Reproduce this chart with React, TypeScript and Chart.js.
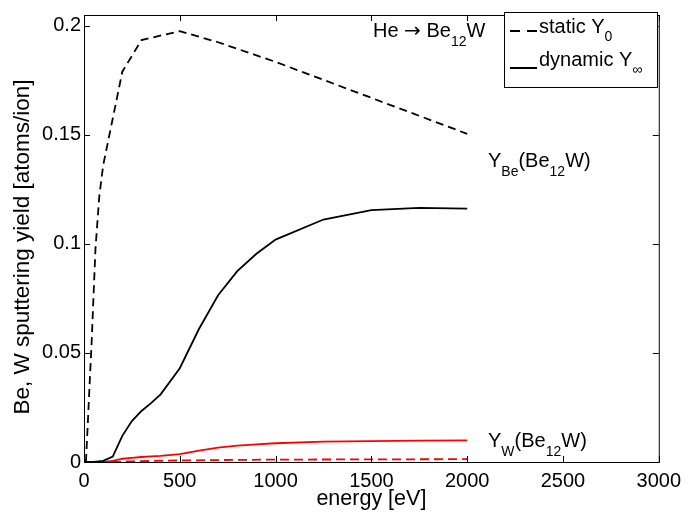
import { useEffect, useRef } from "react";
import { Chart, registerables } from "chart.js";

Chart.register(...registerables);

// Static (initial) Be yield of Be12W under He bombardment
const energyStaticBe = [10, 20, 30, 40, 50, 60, 80, 100, 200, 300, 500, 700, 1000, 1500, 2000];
const yieldStaticBe = [0, 0.018, 0.037, 0.055, 0.077, 0.098, 0.122, 0.136, 0.179, 0.1935, 0.1976, 0.1925, 0.1835, 0.167, 0.1505];

// Dynamic (steady-state) yields
const energyDynamic = [0, 50, 100, 150, 200, 250, 300, 350, 400, 500, 600, 700, 800, 900, 1000, 1250, 1500, 1750, 2000];
const yieldDynamicBe = [0, 0, 0.0005, 0.0025, 0.012, 0.0188, 0.0234, 0.027, 0.031, 0.043, 0.061, 0.0765, 0.0875, 0.0955, 0.102, 0.1112, 0.1155, 0.1165, 0.1162];
const yieldDynamicW = [0, 0, 0, 0.0005, 0.0015, 0.0019, 0.0023, 0.0026, 0.0028, 0.0036, 0.0052, 0.0066, 0.0075, 0.0081, 0.0086, 0.0093, 0.0096, 0.0098, 0.0099];

// Static W yield
const energyStaticW = [0, 100, 200, 300, 500, 700, 1000, 1500, 2000];
const yieldStaticW = [0, 0, 0.0002, 0.0004, 0.0007, 0.0009, 0.0011, 0.0012, 0.0013];

const xTickValues = [0, 500, 1000, 1500, 2000, 2500, 3000];
const yTickValues = [0, 0.05, 0.1, 0.15, 0.2];

const FONT = "'Liberation Sans', Arial, Helvetica, sans-serif";
const SYMBOL_FONT = "'DejaVu Sans', sans-serif";

type Part = { t: string; sub?: boolean; family?: string };

function drawRich(ctx: CanvasRenderingContext2D, x: number, y: number, parts: Part[], size = 20, subSize = 14, subDrop = 9) {
  let cx = x;
  ctx.textBaseline = "alphabetic";
  ctx.textAlign = "left";
  for (const p of parts) {
    ctx.font = `${p.sub ? subSize : size}px ${p.family || FONT}`;
    ctx.fillText(p.t, cx, p.sub ? y + subDrop : y);
    cx += ctx.measureText(p.t).width;
  }
}

const zip = (xs: number[], ys: number[]) => xs.map((x, i) => ({ x, y: ys[i] }));

const framePlugin = {
  id: "frameAndNotes",
  afterDraw(chart: any) {
    const { ctx, chartArea, scales } = chart;
    const { left, right, top, bottom } = chartArea;
    const xs = scales.x;
    const ys = scales.y;
    ctx.save();
    ctx.strokeStyle = "#000";
    ctx.lineWidth = 1;
    ctx.strokeRect(left + 0.5, top + 0.5, right - left, bottom - top);
    const tl = 6;
    ctx.beginPath();
    for (const v of xTickValues) {
      const px = Math.round(xs.getPixelForValue(v)) + 0.5;
      ctx.moveTo(px, bottom);
      ctx.lineTo(px, bottom - tl);
      ctx.moveTo(px, top);
      ctx.lineTo(px, top + tl);
    }
    for (const v of yTickValues) {
      const py = Math.round(ys.getPixelForValue(v)) + 0.5;
      ctx.moveTo(left, py);
      ctx.lineTo(left + tl, py);
      ctx.moveTo(right, py);
      ctx.lineTo(right - tl, py);
    }
    ctx.stroke();

    // axis titles
    ctx.fillStyle = "#000";
    ctx.textAlign = "center";
    ctx.textBaseline = "middle";
    ctx.font = `21.5px ${FONT}`;
    ctx.fillText("energy [eV]", (left + right) / 2, 499);
    ctx.save();
    ctx.translate(23, 247);
    ctx.rotate(-Math.PI / 2);
    ctx.font = `22.5px ${FONT}`;
    ctx.fillText("Be, W sputtering yield [atoms/ion]", 0, 0);
    ctx.restore();

    // annotations
    drawRich(ctx, 373, 37, [{ t: "He " }, { t: "\u2192", family: SYMBOL_FONT }, { t: " Be" }, { t: "12", sub: true }, { t: "W" }]);
    drawRich(ctx, 488, 167, [{ t: "Y" }, { t: "Be", sub: true }, { t: "(Be" }, { t: "12", sub: true }, { t: "W)" }]);
    drawRich(ctx, 488, 447, [{ t: "Y" }, { t: "W", sub: true }, { t: "(Be" }, { t: "12", sub: true }, { t: "W)" }]);

    // legend
    ctx.fillStyle = "#fff";
    ctx.fillRect(504, 12, 153, 75);
    ctx.strokeStyle = "#000";
    ctx.lineWidth = 1;
    ctx.strokeRect(504.5, 12.5, 153, 75);
    ctx.lineWidth = 1.8;
    ctx.beginPath();
    ctx.moveTo(510, 31);
    ctx.lineTo(520, 31);
    ctx.moveTo(527, 31);
    ctx.lineTo(537, 31);
    ctx.moveTo(510, 68);
    ctx.lineTo(537, 68);
    ctx.stroke();
    ctx.fillStyle = "#000";
    drawRich(ctx, 539, 33, [{ t: "static Y" }, { t: "0", sub: true }], 20, 14, 8);
    drawRich(ctx, 539, 66, [{ t: "dynamic Y" }, { t: "\u221E", sub: true }], 20, 14, 8);
    ctx.restore();
  },
};

export default function App() {
  const canvasRef = useRef<HTMLCanvasElement>(null);

  useEffect(() => {
    document.body.style.margin = "0";
    const canvas = canvasRef.current;
    if (!canvas) return;
    const base = { pointRadius: 0, tension: 0, fill: false, borderWidth: 1.8 };
    const chart = new Chart(canvas, {
      type: "line",
      data: {
        datasets: [
          { ...base, label: "static Be", data: zip(energyStaticBe, yieldStaticBe), borderColor: "#000", borderDash: [8, 5] },
          { ...base, label: "dynamic Be", data: zip(energyDynamic, yieldDynamicBe), borderColor: "#000" },
          { ...base, label: "static W", data: zip(energyStaticW, yieldStaticW), borderColor: "#ff0000", borderDash: [9, 5] },
          { ...base, label: "dynamic W", data: zip(energyDynamic, yieldDynamicW), borderColor: "#ff0000" },
        ],
      },
      options: {
        responsive: false,
        animation: false,
        events: [],
        layout: { padding: { top: 7, right: 28, left: 0, bottom: 0 } },
        plugins: { legend: { display: false }, tooltip: { enabled: false } },
        scales: {
          x: {
            type: "linear",
            min: 0,
            max: 3000,
            grid: { display: false, drawTicks: false },
            border: { display: false },
            afterFit: (s: any) => { s.height = 53; },
            afterBuildTicks: (s: any) => { s.ticks = xTickValues.map((v) => ({ value: v })); },
            ticks: { color: "#000", font: { family: FONT, size: 20 }, padding: 7, maxRotation: 0, callback: (v: any) => String(v) },
          },
          y: {
            type: "linear",
            min: 0,
            max: 0.205,
            grid: { display: false, drawTicks: false },
            border: { display: false },
            afterFit: (s: any) => { s.width = 84; },
            afterBuildTicks: (s: any) => { s.ticks = yTickValues.map((v) => ({ value: v })); },
            ticks: { color: "#000", font: { family: FONT, size: 20 }, padding: 3, callback: (v: any) => String(Number(v.toFixed(2))) },
          },
        },
      },
      plugins: [framePlugin],
    });
    return () => chart.destroy();
  }, []);

  return (
    <div style={{ width: 688, height: 515, background: "#fff" }}>
      <canvas ref={canvasRef} width={688} height={515} />
    </div>
  );
}
